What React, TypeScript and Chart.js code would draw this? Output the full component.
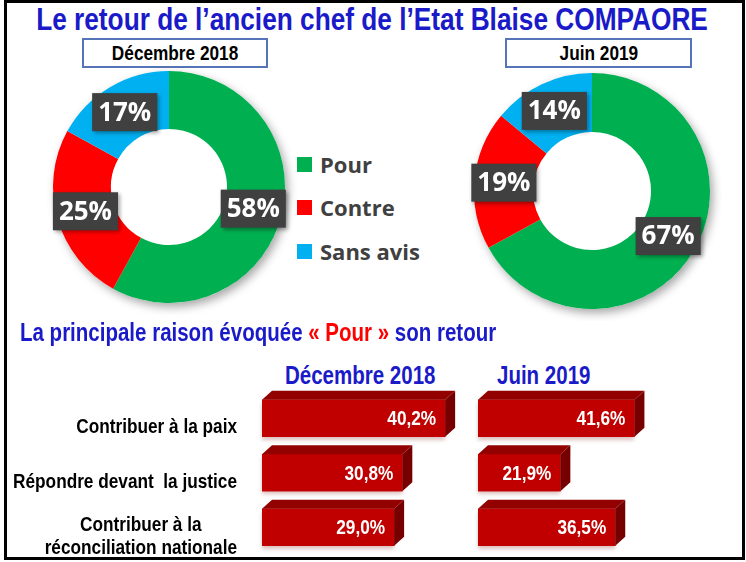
import React, { useEffect, useRef } from "react";
import { Chart, registerables } from "chart.js";
Chart.register(...registerables);

// ---------- data ----------
const donutCategories = ["Pour", "Contre", "Sans avis"];
const donutColors = ["#00b050", "#ff0000", "#00b0f0"];
const dec2018Opinion = [58, 25, 17];
const jun2019Opinion = [67, 19, 14];

const reasonLabels = [
  ["Contribuer à la paix"],
  ["Répondre devant  la justice"],
  ["Contribuer à la", "réconciliation nationale"],
];
const dec2018Reasons = [40.2, 30.8, 29.0];
const jun2019Reasons = [41.6, 21.9, 36.5];

const SANS = '"Liberation Sans", Arial, sans-serif';
const SQUEEZE = 0.82;
const BLUE = "#1a1ac8";

// draw horizontally condensed text (Arial Narrow look)
function narrowFill(ctx: CanvasRenderingContext2D, text: string, x: number, y: number, align: "left" | "right" | "center") {
  const w = ctx.measureText(text).width * SQUEEZE;
  let left = x;
  if (align === "right") left = x - w;
  else if (align === "center") left = x - w / 2;
  ctx.save();
  ctx.translate(left, y);
  ctx.scale(SQUEEZE, 1);
  ctx.textAlign = "left";
  ctx.fillText(text, 0, 0);
  ctx.restore();
}

// ---------- plugins ----------
const donutShadow = {
  id: "donutShadow",
  beforeDatasetsDraw(chart: any) {
    const arc = chart.getDatasetMeta(0).data[0];
    if (!arc) return;
    const { x, y, outerRadius } = arc.getProps(["x", "y", "outerRadius"], true);
    const ctx = chart.ctx;
    ctx.save();
    ctx.shadowColor = "rgba(0,0,0,0.35)";
    ctx.shadowBlur = 10;
    ctx.shadowOffsetX = 3;
    ctx.shadowOffsetY = 4;
    ctx.fillStyle = "#ffffff";
    ctx.beginPath();
    ctx.arc(x, y, outerRadius, 0, Math.PI * 2);
    ctx.fill();
    ctx.restore();
  },
};

const donutLabels = {
  id: "donutLabels",
  afterDatasetsDraw(chart: any) {
    const ctx = chart.ctx;
    const meta = chart.getDatasetMeta(0);
    const data = chart.data.datasets[0].data as number[];
    ctx.save();
    ctx.font = '700 26px "Open Sans", sans-serif';
    meta.data.forEach((arc: any, i: number) => {
      const { x, y } = arc.getCenterPoint();
      const text = `${data[i]}%`;
      const w = ctx.measureText(text).width + 12;
      const h = 38;
      ctx.shadowColor = "rgba(0,0,0,0.35)";
      ctx.shadowBlur = 4;
      ctx.shadowOffsetX = 2;
      ctx.shadowOffsetY = 2;
      ctx.fillStyle = "#404040";
      ctx.fillRect(x - w / 2, y - h / 2, w, h);
      ctx.shadowColor = "transparent";
      ctx.fillStyle = "#ffffff";
      ctx.textAlign = "center";
      ctx.textBaseline = "middle";
      ctx.fillText(text, x, y + 1);
    });
    ctx.restore();
  },
};

const DX = 10;
const DY = 9;

const bar3d = {
  id: "bar3d",
  beforeDatasetsDraw(chart: any) {
    const ctx = chart.ctx;
    ctx.save();
    ctx.shadowColor = "rgba(120,0,0,0.25)";
    ctx.shadowBlur = 4;
    ctx.shadowOffsetY = 3;
    ctx.fillStyle = "#ffffff";
    chart.getDatasetMeta(0).data.forEach((bar: any) => {
      const { x, y, base, height } = bar.getProps(["x", "y", "base", "height"], true);
      ctx.fillRect(base, y - height / 2, x - base, height);
    });
    ctx.restore();
  },
  afterDatasetsDraw(chart: any) {
    const ctx = chart.ctx;
    ctx.save();
    chart.getDatasetMeta(0).data.forEach((bar: any) => {
      const { x, y, base, height } = bar.getProps(["x", "y", "base", "height"], true);
      const top = y - height / 2;
      const bottom = y + height / 2;
      ctx.fillStyle = "#930000";
      ctx.beginPath();
      ctx.moveTo(base, top);
      ctx.lineTo(base + DX, top - DY);
      ctx.lineTo(x + DX, top - DY);
      ctx.lineTo(x, top);
      ctx.closePath();
      ctx.fill();
      ctx.fillStyle = "#760000";
      ctx.beginPath();
      ctx.moveTo(x, top);
      ctx.lineTo(x + DX, top - DY);
      ctx.lineTo(x + DX, bottom - DY);
      ctx.lineTo(x, bottom);
      ctx.closePath();
      ctx.fill();
    });
    ctx.restore();
  },
};

const barValues = {
  id: "barValues",
  afterDatasetsDraw(chart: any) {
    const ctx = chart.ctx;
    const data = chart.data.datasets[0].data as number[];
    ctx.save();
    ctx.font = `700 21px ${SANS}`;
    ctx.fillStyle = "#ffffff";
    ctx.textBaseline = "middle";
    chart.getDatasetMeta(0).data.forEach((bar: any, i: number) => {
      const { x, y } = bar.getProps(["x", "y"], true);
      narrowFill(ctx, `${data[i].toFixed(1).replace(".", ",")}%`, x - 9, y + 1, "right");
    });
    ctx.restore();
  },
};

const categoryLabels = {
  id: "categoryLabels",
  afterDraw(chart: any) {
    const ctx = chart.ctx;
    const yScale = chart.scales.y;
    ctx.save();
    ctx.font = `700 21px ${SANS}`;
    ctx.fillStyle = "#000000";
    ctx.textBaseline = "middle";
    const right = chart.chartArea.left - 25;
    const lh = 23;
    reasonLabels.forEach((lines, i) => {
      const cy = yScale.getPixelForValue(i) + 9;
      const blockW = Math.max(...lines.map((l) => ctx.measureText(l).width)) * SQUEEZE;
      lines.forEach((line, j) => {
        const ly = cy + (j - (lines.length - 1) / 2) * lh;
        narrowFill(ctx, line, right - blockW / 2, ly, "center");
      });
    });
    ctx.restore();
  },
};

// ---------- components ----------
function Donut({ values, left, top, size }: { values: number[]; left: number; top: number; size: number }) {
  const ref = useRef<HTMLCanvasElement>(null);
  useEffect(() => {
    const chart = new Chart(ref.current!, {
      type: "doughnut",
      data: {
        labels: donutCategories,
        datasets: [{ data: values, backgroundColor: donutColors, borderWidth: 0 }],
      },
      options: {
        animation: false,
        responsive: false,
        cutout: "50%",
        layout: { padding: 12 },
        plugins: { legend: { display: false }, tooltip: { enabled: false } },
      } as any,
      plugins: [donutShadow, donutLabels],
    });
    return () => chart.destroy();
  }, []);
  return (
    <canvas
      ref={ref}
      width={size}
      height={size}
      style={{ position: "absolute", left, top, width: size, height: size }}
    />
  );
}

function ReasonBars({
  values, max, left, width, padLeft, padRight, withCategories,
}: {
  values: number[]; max: number; left: number; width: number; padLeft: number; padRight: number; withCategories: boolean;
}) {
  const ref = useRef<HTMLCanvasElement>(null);
  const height = 173;
  useEffect(() => {
    const plugins: any[] = [bar3d, barValues];
    if (withCategories) plugins.push(categoryLabels);
    const chart = new Chart(ref.current!, {
      type: "bar",
      data: {
        labels: reasonLabels.map((l) => l.join(" ")),
        datasets: [{ data: values, backgroundColor: "#c00000", barThickness: 37, borderWidth: 0 }],
      },
      options: {
        indexAxis: "y",
        animation: false,
        responsive: false,
        layout: { padding: { left: padLeft, right: padRight, top: 6, bottom: 3.5 } },
        scales: {
          x: { display: false, min: 0, max },
          y: { display: false },
        },
        plugins: { legend: { display: false }, tooltip: { enabled: false } },
      } as any,
      plugins,
    });
    return () => chart.destroy();
  }, []);
  return (
    <canvas
      ref={ref}
      width={width}
      height={height}
      style={{ position: "absolute", left, top: 385, width, height }}
    />
  );
}

const narrow = (size: number, color: string, origin: string): React.CSSProperties => ({
  display: "inline-block",
  fontFamily: SANS,
  fontWeight: 700,
  fontSize: size,
  color,
  whiteSpace: "nowrap",
  transform: `scaleX(${SQUEEZE})`,
  transformOrigin: origin,
});

export default function App() {
  const box: React.CSSProperties = {
    position: "absolute",
    top: 38,
    height: 30,
    boxSizing: "border-box",
    border: "2px solid #5575b8",
    background: "#fff",
    display: "flex",
    alignItems: "center",
    justifyContent: "center",
    overflow: "visible",
  };
  const legendRow = (top: number): React.CSSProperties => ({
    position: "absolute",
    left: 297,
    top: top - 15,
    height: 30,
    display: "flex",
    alignItems: "center",
    fontFamily: '"Open Sans", sans-serif',
    fontWeight: 700,
    fontSize: 22,
    color: "#404040",
    whiteSpace: "nowrap",
  });
  return (
    <div style={{ position: "absolute", left: 0, top: 0, width: 746, height: 562, background: "#fff", overflow: "hidden" }}>
      <div
        style={{
          position: "absolute", left: 4, top: 0, width: 741, height: 560,
          border: "3px solid #000", boxSizing: "border-box",
        }}
      />
      <div style={{ position: "absolute", left: 372, top: 1, lineHeight: "36px", transform: "translateX(-50%)" }}>
        <span style={narrow(32, BLUE, "center")}>Le retour de l’ancien chef de l’Etat Blaise COMPAORE</span>
      </div>
      <div style={{ ...box, left: 82, width: 186 }}>
        <span style={narrow(21, "#000", "center")}>Décembre 2018</span>
      </div>
      <div style={{ ...box, left: 505, width: 187 }}>
        <span style={narrow(21, "#000", "center")}>Juin 2019</span>
      </div>

      <Donut values={dec2018Opinion} left={41} top={59} size={256} />
      <Donut values={jun2019Opinion} left={462} top={61} size={260} />

      {donutCategories.map((c, i) => (
        <div key={c} style={legendRow([164, 207, 251][i])}>
          <span style={{ display: "inline-block", width: 15, height: 15, background: donutColors[i], marginRight: 8 }} />
          {c}
        </div>
      ))}

      <div style={{ position: "absolute", left: 20, top: 317, lineHeight: "30px" }}>
        <span style={narrow(25, BLUE, "left center")}>
          La principale raison évoquée <span style={{ color: "#ff0000" }}>« Pour »</span> son retour
        </span>
      </div>
      <div style={{ position: "absolute", left: 285, top: 360, lineHeight: "30px" }}>
        <span style={narrow(25, BLUE, "left center")}>Décembre 2018</span>
      </div>
      <div style={{ position: "absolute", left: 497, top: 360, lineHeight: "30px" }}>
        <span style={narrow(25, BLUE, "left center")}>Juin 2019</span>
      </div>

      <ReasonBars values={dec2018Reasons} max={45} left={0} width={470} padLeft={262} padRight={3} withCategories={true} />
      <ReasonBars values={jun2019Reasons} max={50} left={470} width={220} padLeft={8} padRight={24} withCategories={false} />
    </div>
  );
}
